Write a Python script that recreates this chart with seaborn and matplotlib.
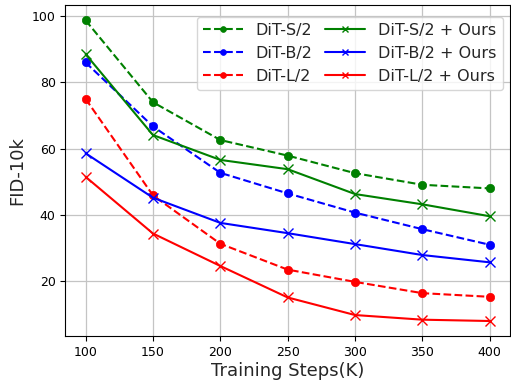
import matplotlib
matplotlib.use("Agg")
import matplotlib.pyplot as plt
import seaborn as sns
import pandas as pd

steps = [100, 150, 200, 250, 300, 350, 400]
dit_s2 = [98.7, 74.0, 62.6, 57.9, 52.6, 49.1, 48.0]
dit_b2 = [86.0, 66.7, 52.7, 46.5, 40.7, 35.7, 31.0]
dit_l2 = [75.0, 45.9, 31.3, 23.5, 19.8, 16.4, 15.3]
dit_s2_ours = [88.5, 64.1, 56.6, 53.8, 46.3, 43.2, 39.6]
dit_b2_ours = [58.6, 45.2, 37.6, 34.5, 31.2, 27.9, 25.7]
dit_l2_ours = [51.5, 34.4, 24.6, 15.1, 9.8, 8.4, 8.0]

series = [
    ("DiT-S/2", dit_s2, "green", "--", "o"),
    ("DiT-B/2", dit_b2, "blue", "--", "o"),
    ("DiT-L/2", dit_l2, "red", "--", "o"),
    ("DiT-S/2 + Ours", dit_s2_ours, "green", "-", "x"),
    ("DiT-B/2 + Ours", dit_b2_ours, "blue", "-", "x"),
    ("DiT-L/2 + Ours", dit_l2_ours, "red", "-", "x"),
]

sns.set_style("ticks")
plt.rcParams['font.family'] = ['DejaVu Sans']
fig, ax = plt.subplots(figsize=(5.11, 3.81), dpi=100)
fig.subplots_adjust(left=0.128, right=0.998, top=0.986, bottom=0.118)

for name, vals, color, ls, mk in series:
    df = pd.DataFrame({"step": steps, "fid": vals})
    sns.lineplot(data=df, x="step", y="fid", ax=ax, color=color, linestyle=ls,
                 marker=mk, markersize=6 if mk == "o" else 6.5, label=name,
                 markeredgecolor=color, markeredgewidth=1.0 if mk == "x" else 0.5,
                 linewidth=1.5)

ax.grid(True, color="#c4c4c4", linewidth=0.9)
ax.set_xticks(steps)
ax.set_yticks([20, 40, 60, 80, 100])
ax.tick_params(labelsize=9, colors="black")
ax.set_xlabel("Training Steps(K)", fontsize=13, labelpad=2)
ax.set_ylabel("FID-10k", fontsize=13, labelpad=4)
for sp in ax.spines.values():
    sp.set_color("black")
    sp.set_linewidth(0.8)
ax.legend(ncol=2, fontsize=11.5, loc="upper right", framealpha=0.8,
          columnspacing=0.8, handlelength=2.5, markerscale=0.7,
          bbox_to_anchor=(1.002, 0.99))
fig.savefig("out.png", dpi=100)
